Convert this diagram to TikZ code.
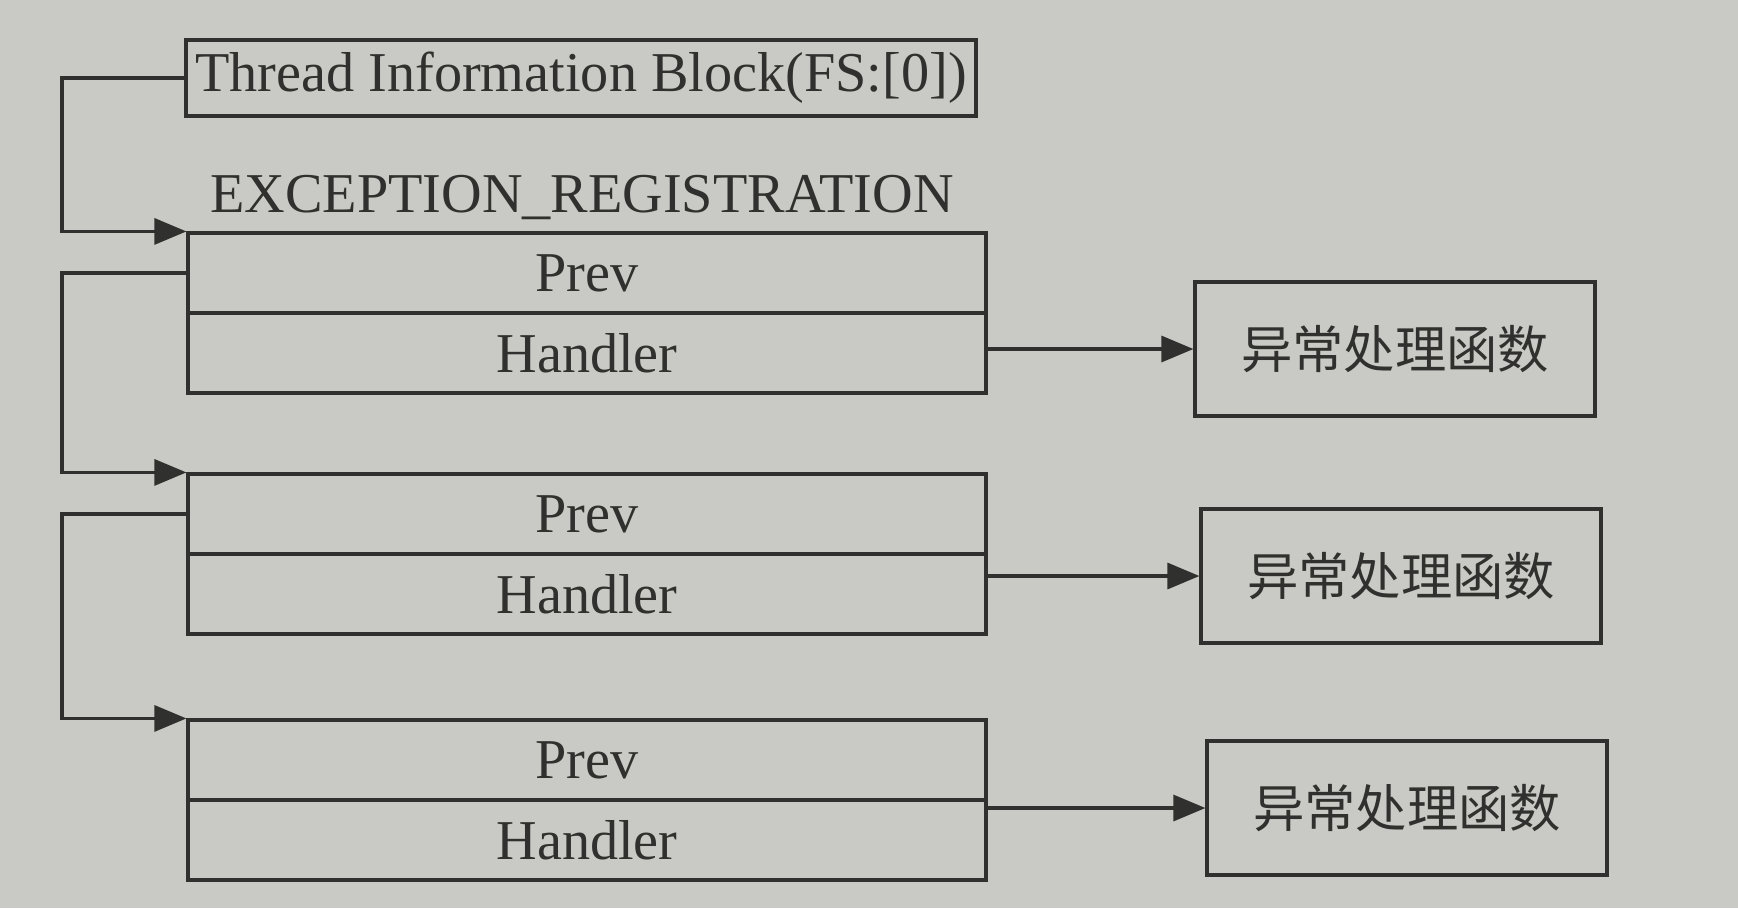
\documentclass[tikz,border=0pt]{standalone}
\usepackage{fontspec}
\setmainfont{Liberation Serif}
\newfontfamily\cjk{Noto Sans CJK SC}
\usetikzlibrary{arrows.meta}
\definecolor{paper}{RGB}{201,201,197}
\definecolor{ink}{RGB}{48,48,46}
\begin{document}
\begin{tikzpicture}[
  every node/.style={text=ink},
  field/.style={rectangle, draw=ink, line width=0.9pt, minimum width=7.98cm,
    minimum height=0.8cm, inner sep=0pt, font=\fontsize{16}{18}\selectfont},
  tibbox/.style={field, minimum width=7.9cm, minimum height=0.76cm},
  func/.style={rectangle, draw=ink, line width=0.9pt, minimum width=4.0cm,
    minimum height=1.34cm, font=\cjk\fontsize{14.6}{17}\selectfont},
  link/.style={draw=ink, line width=0.9pt, -{Triangle[length=3.2mm, width=2.6mm]}},
]

% Page and background
\useasboundingbox (0,0) rectangle (17.38,-9.08);
\fill[paper] (0,0) rectangle (17.38,-9.08);
\coordinate (rail) at (0.62,0);

% Thread information block
\node[tibbox] (tib) at (5.81,-0.78) {Thread Information Block(FS:[0])};
\node[font=\fontsize{16}{18}\selectfont] (reg) at (5.82,-1.97) {EXCEPTION\_REGISTRATION};

% Registration records
\node[field] (p1) at (5.87,-2.73) {Prev};
\node[field] (h1) at (5.87,-3.53) {Handler};
\node[field] (p2) at (5.87,-5.14) {Prev};
\node[field] (h2) at (5.87,-5.94) {Handler};
\node[field] (p3) at (5.87,-7.60) {Prev};
\node[field] (h3) at (5.87,-8.40) {Handler};

% Handler functions
\node[func] (f1) at (13.95,-3.49) {异常处理函数};
\node[func] (f2) at (14.01,-5.76) {异常处理函数};
\node[func] (f3) at (14.07,-8.08) {异常处理函数};

% Chain links
\draw[link] (tib.west) -- (tib.west -| rail) |- (p1.north west);
\draw[link] (p1.west) -- (p1.west -| rail) |- (p2.north west);
\draw[link] (p2.west) -- (p2.west -| rail) |- (p3.north west);

% Handler links
\draw[link] (f1.west -| h1.east) -- (f1.west);
\draw[link] (f2.west -| h2.east) -- (f2.west);
\draw[link] (f3.west -| h3.east) -- (f3.west);

\end{tikzpicture}
\end{document}
